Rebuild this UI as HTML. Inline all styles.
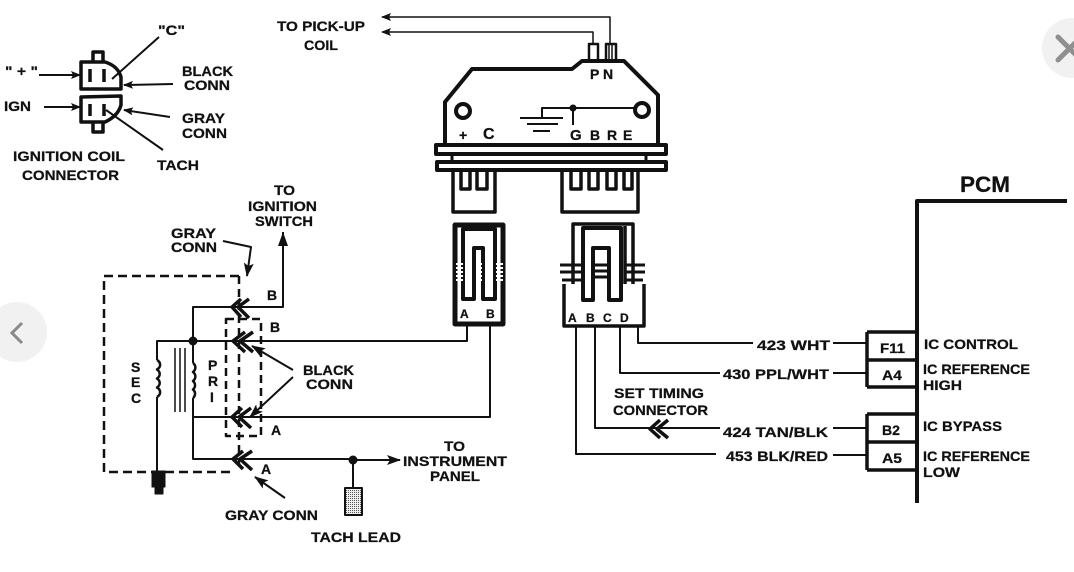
<!DOCTYPE html>
<html><head><meta charset="utf-8"><style>
html,body{margin:0;padding:0;background:#fff;width:1074px;height:572px;overflow:hidden}
svg{display:block}
text{font-family:"Liberation Sans",sans-serif;font-weight:bold;fill:#111;stroke:#111;stroke-width:.25px}
</style></head><body>
<svg width="1074" height="572" viewBox="0 0 1074 572" xmlns="http://www.w3.org/2000/svg">
<defs>
<marker id="ar" markerWidth="10" markerHeight="8" refX="9" refY="4" orient="auto" markerUnits="userSpaceOnUse"><path d="M0,0L10,4L0,8L2,4Z" fill="#111" stroke="none"/></marker>
<marker id="arb" markerWidth="14" markerHeight="10" refX="13" refY="5" orient="auto" markerUnits="userSpaceOnUse"><path d="M0,0L14,5L0,10L3,5Z" fill="#111" stroke="none"/></marker>
<pattern id="dots" width="2" height="2" patternUnits="userSpaceOnUse"><rect width="2" height="2" fill="#eee"/><rect width="1" height="1" fill="#555"/></pattern>
</defs>
<circle cx="1072" cy="48" r="30" fill="#f1f1f1"/>
<path d="M1058,37L1080,59M1058,60L1080,38" stroke="#8f8f8f" stroke-width="5" stroke-linecap="round"/>
<circle cx="17" cy="332" r="30" fill="#f1f1f1"/>
<path d="M22,323L12,333L22,343" stroke="#8a8a8a" stroke-width="3" fill="none"/>

<g fill="none" stroke="#111" stroke-width="2" stroke-linejoin="round">
<!-- coil connector -->
<g stroke-width="3.5">
<path d="M81,62V89H121V77Q118,66 105,62Z"/>
<path d="M93,62V52H103V62"/>
<path d="M81,97V122H105Q118,116 121,105V96Z"/>
<path d="M93,122V132H103V122"/>
<path d="M90,69V82M104,69V82M90,104V116M104,104V116" stroke-width="3.5"/>
</g>
<g stroke-width="2">
<path d="M39,75H80" marker-end="url(#ar)"/>
<path d="M44,107H80" marker-end="url(#ar)"/>
<path d="M159,37L112,79"/>
<path d="M173,84L124,85" marker-end="url(#ar)"/>
<path d="M170,117L124,110" marker-end="url(#ar)"/>
<path d="M163,150L106,110"/>
</g>

<!-- to pick-up -->
<g stroke-width="1.5">
<path d="M610,44V17H382" marker-end="url(#ar)"/>
<path d="M593,44V32H382" marker-end="url(#ar)"/>
</g>
<path d="M589,44H598V61H589ZM606,44H616V61H606Z" stroke-width="2.500"/>
<path d="M609,44V61M612,44V61" stroke-width="1.500"/>

<!-- module -->
<path d="M445,144V102L472,69H572L582,61H624L658,95V145" stroke-width="4"/>
<circle cx="463" cy="111" r="7" stroke-width="4"/>
<circle cx="642" cy="110" r="7" stroke-width="4"/>
<path d="M542,118V108H636M573,108V125" stroke-width="2"/>
<path d="M520,118H563M527,124H558M533,131H550" stroke-width="2"/>
<circle cx="573" cy="108" r="3.500" fill="#111" stroke="none"/>
<rect x="436" y="145" width="230" height="9" stroke-width="4"/>
<rect x="437" y="162" width="229" height="8" stroke-width="4"/>
<path d="M452,155V162M646,155V162" stroke-width="3"/>

<!-- module lower connectors -->
<path d="M453,171V212H495V171" stroke-width="3.500"/>
<path d="M461,171V189H470V171M477,171V189H487V171" stroke-width="3.500"/>
<path d="M562,171V212H638V171" stroke-width="3.500"/>
<path d="M571,171V189H581V171M589,171V189H598V171M607,171V189H616V171M624,171V189H632V171" stroke-width="3.500"/>

<!-- plug A B -->
<path d="M455,225H503V324H455Z" stroke-width="5"/>
<path d="M463,299H474V248H483V299H495V229H463Z" stroke-width="4"/>
<path d="M456,264H463M456,268H463M456,272H463M456,276H463M456,280H463M476,264H482M476,268H482M476,272H482M476,276H482M476,280H482M496,264H503M496,268H503M496,272H503M496,276H503M496,280H503" stroke="#fff" stroke-width="2"/>

<!-- plug A B C D -->
<path d="M573,284V224H633V284M625,226V284" stroke-width="3.500"/>
<path d="M564,284V326H644V284" stroke-width="3.500"/>
<path d="M583,300H593V248H609V300H621V228H583Z" stroke-width="4"/>
<path d="M560,265H581M560,272H581M562,280H581M595,265H607M595,271H607M595,277H607M624,265H645M624,272H645M624,280H643" stroke-width="3"/>

<!-- wires right -->
<g stroke-width="2">
<path d="M576,326V454H716"/>
<path d="M595,326V428H720"/>
<path d="M620,326V373H720"/>
<path d="M638,326V343H753"/>
<path d="M833,343H867M833,373H867M833,428H867M833,455H867"/>
</g>
<path d="M660,420L650,429L660,438M668,420L657,429L668,438" stroke-width="3.500"/>

<!-- PCM -->
<path d="M1067,201H917V503" stroke-width="4"/>
<path d="M867,332H917M867,360H917M867,387H917M867,332V387M867,414H917M867,442H917M867,470H917M867,414V470" stroke-width="3.500"/>

<!-- left circuit: dashed -->
<path d="M239,276H104V472H235" stroke-width="2.500" stroke-dasharray="9,5"/>
<path d="M239,276V470" stroke-width="2.500" stroke-dasharray="8,5"/>
<path d="M226,319H261V436H226Z" stroke-width="2.500" stroke-dasharray="8,5"/>

<!-- coil wires -->
<g stroke-width="2">
<path d="M283,232V307H193V341" marker-start="url(#arbs)"/>
<path d="M157,360V341H467V325"/>
<path d="M193,341V363M193,398V459H353"/>
<path d="M193,417H490V325"/>
<path d="M157,397V472"/>
<path d="M175,348V412M180,348V412M185,348V412" stroke-width="1.500"/>
<path d="M353,460H400" marker-end="url(#arb)"/>
<path d="M353,460V488"/>
</g>
<path d="M283,246L278,246L283,232L288,246Z" fill="#111" stroke="none"/>
<path d="M157,360a8,6 0 0 1 0,9.500a8,6 0 0 1 0,9a8,6 0 0 1 0,9a8,6 0 0 1 0,9.500" stroke-width="2.500"/>
<path d="M193,363a7,6 0 0 1 0,9a7,6 0 0 1 0,9a7,6 0 0 1 0,8.500a7,6 0 0 1 0,8.500" stroke-width="2.500"/>
<g stroke-width="3.500">
<path d="M241,299L232,307L241,317M249,299L238,307L249,318"/>
<path d="M245,332L233,341L245,352M253,332L240,341L253,352"/>
<path d="M242,408L232,417L242,427M251,408L239,417L251,428"/>
<path d="M243,451L233,459L243,469M252,451L240,459L252,470"/>
</g>
<circle cx="193" cy="341" r="4.500" fill="#111" stroke="none"/>
<circle cx="353" cy="460" r="4.500" fill="#111" stroke="none"/>
<rect x="345" y="488" width="17" height="27" stroke-width="2" fill="url(#dots)"/>
<path d="M152,471H165V487H163V494H155V487H152Z" fill="#111" stroke="#111" stroke-width="1"/>

<g stroke-width="2">
<path d="M223,241L251,247L247,276" marker-end="url(#arb)"/>
<path d="M293,370L252,346" marker-end="url(#arb)"/>
<path d="M293,377L250,417" marker-end="url(#arb)"/>
<path d="M285,498L255,477" marker-end="url(#arb)"/>
</g>
</g>

<!-- texts -->
<g style="font-size:14px">
<text x="5" y="76" textLength="33" lengthAdjust="spacingAndGlyphs">" + "</text>
<text x="4" y="111" textLength="27" lengthAdjust="spacingAndGlyphs">IGN</text>
<text x="158" y="35" textLength="27" lengthAdjust="spacingAndGlyphs">"C"</text>
<text x="182" y="76" textLength="51" lengthAdjust="spacingAndGlyphs">BLACK</text>
<text x="184" y="90" textLength="46" lengthAdjust="spacingAndGlyphs">CONN</text>
<text x="182" y="123" textLength="43" lengthAdjust="spacingAndGlyphs">GRAY</text>
<text x="182" y="138" textLength="45" lengthAdjust="spacingAndGlyphs">CONN</text>
<text x="157" y="170" textLength="42" lengthAdjust="spacingAndGlyphs">TACH</text>
<text x="13" y="161" textLength="112" lengthAdjust="spacingAndGlyphs">IGNITION COIL</text>
<text x="22" y="180" textLength="97" lengthAdjust="spacingAndGlyphs">CONNECTOR</text>
<text x="277" y="31" textLength="88" lengthAdjust="spacingAndGlyphs">TO PICK-UP</text>
<text x="304" y="50" textLength="34" lengthAdjust="spacingAndGlyphs">COIL</text>
<text x="590" y="79">P</text>
<text x="603" y="79">N</text>
<text x="459" y="140">+</text>
<text x="483" y="139" style="font-size:16px">C</text>
<text x="570" y="140" style="font-size:15px">G</text>
<text x="590" y="140">B</text>
<text x="607" y="140">R</text>
<text x="623" y="140">E</text>
<text x="274" y="195" textLength="21" lengthAdjust="spacingAndGlyphs">TO</text>
<text x="248" y="211" textLength="69" lengthAdjust="spacingAndGlyphs">IGNITION</text>
<text x="255" y="226" textLength="58" lengthAdjust="spacingAndGlyphs">SWITCH</text>
<text x="171" y="238" textLength="45" lengthAdjust="spacingAndGlyphs">GRAY</text>
<text x="171" y="252" textLength="46" lengthAdjust="spacingAndGlyphs">CONN</text>
<text x="267" y="300">B</text>
<text x="270" y="332">B</text>
<text x="271" y="435">A</text>
<text x="261" y="474">A</text>
<text x="303" y="375" textLength="51" lengthAdjust="spacingAndGlyphs">BLACK</text>
<text x="306" y="389" textLength="47" lengthAdjust="spacingAndGlyphs">CONN</text>
<text x="131" y="372">S</text>
<text x="131" y="387">E</text>
<text x="131" y="403">C</text>
<text x="208" y="370">P</text>
<text x="208" y="386">R</text>
<text x="210" y="402">I</text>
<text x="444" y="451" textLength="21" lengthAdjust="spacingAndGlyphs">TO</text>
<text x="403" y="466" textLength="104" lengthAdjust="spacingAndGlyphs">INSTRUMENT</text>
<text x="430" y="481" textLength="50" lengthAdjust="spacingAndGlyphs">PANEL</text>
<text x="225" y="520" textLength="93" lengthAdjust="spacingAndGlyphs">GRAY CONN</text>
<text x="311" y="542" textLength="90" lengthAdjust="spacingAndGlyphs">TACH LEAD</text>
<g style="font-size:12px">
<text x="460" y="318">A</text>
<text x="486" y="318">B</text>
<text x="568" y="322">A</text>
<text x="586" y="322">B</text>
<text x="603" y="322">C</text>
<text x="620" y="322">D</text>
</g>
<text x="757" y="350" textLength="73" lengthAdjust="spacingAndGlyphs">423 WHT</text>
<text x="723" y="379" textLength="106" lengthAdjust="spacingAndGlyphs">430 PPL/WHT</text>
<text x="723" y="437" textLength="105" lengthAdjust="spacingAndGlyphs">424 TAN/BLK</text>
<text x="726" y="461" textLength="102" lengthAdjust="spacingAndGlyphs">453 BLK/RED</text>
<text x="614" y="398" textLength="90" lengthAdjust="spacingAndGlyphs">SET TIMING</text>
<text x="613" y="415" textLength="95" lengthAdjust="spacingAndGlyphs">CONNECTOR</text>
<text x="960" y="192" textLength="50" lengthAdjust="spacingAndGlyphs" style="font-size:22px">PCM</text>
<text x="880" y="353" textLength="25" lengthAdjust="spacingAndGlyphs">F11</text>
<text x="882" y="380" textLength="20" lengthAdjust="spacingAndGlyphs">A4</text>
<text x="882" y="435" textLength="18" lengthAdjust="spacingAndGlyphs">B2</text>
<text x="882" y="463" textLength="20" lengthAdjust="spacingAndGlyphs">A5</text>
<text x="924" y="349" textLength="94" lengthAdjust="spacingAndGlyphs">IC CONTROL</text>
<text x="923" y="374" textLength="107" lengthAdjust="spacingAndGlyphs">IC REFERENCE</text>
<text x="923" y="390" textLength="39" lengthAdjust="spacingAndGlyphs">HIGH</text>
<text x="923" y="431" textLength="79" lengthAdjust="spacingAndGlyphs">IC BYPASS</text>
<text x="923" y="461" textLength="107" lengthAdjust="spacingAndGlyphs">IC REFERENCE</text>
<text x="923" y="477" textLength="37" lengthAdjust="spacingAndGlyphs">LOW</text>
</g>
</svg>
</body></html>
